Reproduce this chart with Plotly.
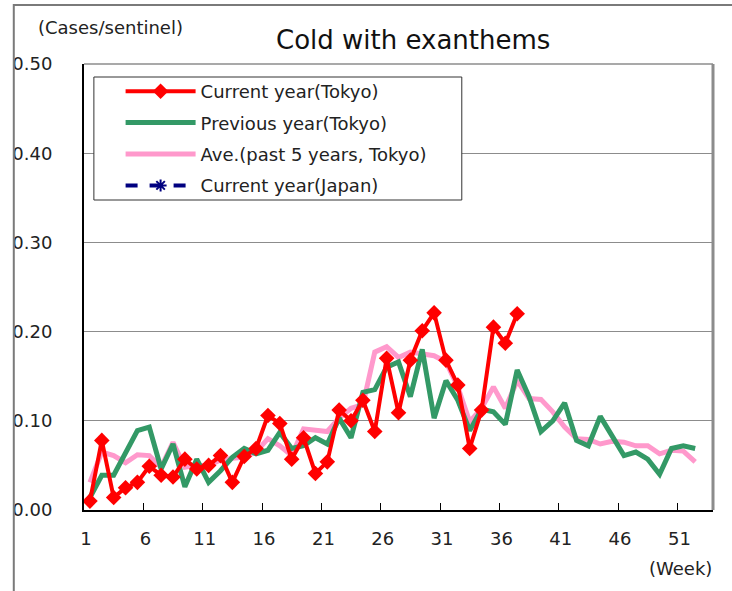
import plotly.graph_objects as go

weeks_cur = list(range(1, 38))
current_tokyo = [0.010, 0.078, 0.014, 0.025, 0.031, 0.049, 0.039, 0.037, 0.057, 0.046,
                 0.050, 0.061, 0.031, 0.060, 0.069, 0.106, 0.097, 0.057, 0.081, 0.041,
                 0.054, 0.112, 0.100, 0.123, 0.088, 0.170, 0.109, 0.168, 0.201, 0.221,
                 0.168, 0.140, 0.069, 0.112, 0.205, 0.187, 0.220]

weeks_full = list(range(1, 53))
previous_tokyo = [0.014, 0.039, 0.039, 0.064, 0.089, 0.093, 0.046, 0.074, 0.026, 0.057,
                  0.031, 0.044, 0.059, 0.069, 0.063, 0.067, 0.087, 0.069, 0.072, 0.081,
                  0.074, 0.103, 0.081, 0.132, 0.135, 0.160, 0.166, 0.127, 0.180, 0.103,
                  0.145, 0.123, 0.089, 0.113, 0.110, 0.096, 0.157, 0.127, 0.088, 0.100,
                  0.120, 0.078, 0.072, 0.105, 0.084, 0.061, 0.065, 0.057, 0.040, 0.069,
                  0.072, 0.069]
average_5y = [0.031, 0.065, 0.061, 0.053, 0.062, 0.061, 0.048, 0.076, 0.048, 0.050,
              0.050, 0.056, 0.058, 0.059, 0.065, 0.080, 0.072, 0.061, 0.091, 0.090,
              0.088, 0.103, 0.114, 0.118, 0.177, 0.183, 0.171, 0.177, 0.175, 0.173,
              0.166, 0.138, 0.099, 0.114, 0.138, 0.114, 0.145, 0.125, 0.124, 0.110,
              0.093, 0.080, 0.079, 0.074, 0.077, 0.076, 0.072, 0.072, 0.063, 0.067,
              0.066, 0.054]
current_japan = [None] * len(weeks_cur)  # no values shown in the chart

tick_weeks = [1, 6, 11, 16, 21, 26, 31, 36, 41, 46, 51]
boundary_ticks = [5.5, 10.5, 15.5, 20.5, 25.5, 30.5, 35.5, 40.5, 45.5, 50.5]

FONT = "DejaVu Sans"
TXT = "#222222"

fig = go.Figure()
fig.add_trace(go.Scatter(x=weeks_full, y=average_5y, name="Ave.(past 5 years, Tokyo)",
                         mode="lines", legendgroup="c", legendrank=3,
                         line=dict(color="#ff99cc", width=5)))
fig.add_trace(go.Scatter(x=weeks_full, y=previous_tokyo, name="Previous year(Tokyo)",
                         mode="lines", legendgroup="b", legendrank=2,
                         line=dict(color="#339966", width=5)))
fig.add_trace(go.Scatter(x=weeks_cur, y=current_japan, name="Current year(Japan)",
                         mode="lines+markers", legendgroup="d", legendrank=4,
                         line=dict(color="#000080", width=4, dash="dash"),
                         marker=dict(symbol="asterisk-open", size=10, color="#000080",
                                     line=dict(color="#000080", width=2))))
fig.add_trace(go.Scatter(x=weeks_cur, y=current_tokyo, name="Current year(Tokyo)",
                         mode="lines+markers", legendgroup="a", legendrank=1,
                         line=dict(color="#ff0000", width=4),
                         marker=dict(symbol="diamond", size=12, color="#ff0000")))

L, R, T, B = 77, 19, 64, 81
W, H = 732, 591
pw, ph = W - L - R, H - T - B

def px(x):
    return (x - L) / pw

def py(y):
    return (H - B - y) / ph

fig.update_layout(
    width=W, height=H,
    margin=dict(l=L, r=R, t=T, b=B),
    paper_bgcolor="white", plot_bgcolor="white",
    font=dict(family=FONT, size=18, color=TXT),
    showlegend=True,
    legend=dict(x=px(114), y=py(73), xanchor="left", yanchor="top",
                bgcolor="rgba(0,0,0,0)", borderwidth=0,
                traceorder="grouped", tracegroupgap=5, itemwidth=70,
                font=dict(family=FONT, size=18, color=TXT)),
    xaxis=dict(range=[0.5, 53.5], tickmode="array",
               tickvals=[w - 0.33 for w in tick_weeks],
               ticktext=[str(w) for w in tick_weeks],
               ticks="", showgrid=False, zeroline=False,
               showline=True, linecolor="black", linewidth=2,
               tickfont=dict(family=FONT, size=18, color=TXT),
               ticklabelstandoff=11,
               minor=dict(tickmode="array", tickvals=boundary_ticks, ticks="inside",
                          ticklen=7, tickwidth=1, tickcolor="black", showgrid=False)),
    yaxis=dict(range=[0, 0.5], tick0=0, dtick=0.1, tickformat=".2f",
               ticks="", showgrid=True, gridcolor="#8c8c8c", gridwidth=1,
               zeroline=False, showline=True, linecolor="black", linewidth=2,
               tickfont=dict(family=FONT, size=18, color=TXT),
               ticklabelstandoff=26),
    shapes=[
        dict(type="rect", xref="paper", yref="paper", x0=px(6), y0=py(600),
             x1=px(745), y1=py(5), line=dict(color="#7a7a7a", width=2),
             fillcolor="rgba(0,0,0,0)", layer="above"),
        dict(type="line", xref="paper", yref="paper", x0=0, y0=1, x1=1, y1=1,
             line=dict(color="#8c8c8c", width=1.5), layer="above"),
        dict(type="line", xref="paper", yref="paper", x0=1, y0=0, x1=1, y1=1,
             line=dict(color="#8c8c8c", width=3), layer="above"),
        dict(type="rect", xref="paper", yref="paper", x0=px(87), y0=py(200),
             x1=px(459), y1=py(77), line=dict(color="#333333", width=1),
             fillcolor="white", layer="above"),
    ],
    annotations=[
        dict(text="Cold with exanthems", xref="paper", yref="paper", x=px(410), y=py(40),
             xanchor="center", yanchor="middle", showarrow=False,
             font=dict(family=FONT, size=26, color="#111111")),
        dict(text="(Cases/sentinel)", xref="paper", yref="paper", x=px(28), y=py(27),
             xanchor="left", yanchor="middle", showarrow=False,
             font=dict(family=FONT, size=18, color=TXT)),
        dict(text="(Week)", xref="paper", yref="paper", x=px(714), y=py(568),
             xanchor="right", yanchor="middle", showarrow=False,
             font=dict(family=FONT, size=18, color=TXT)),
    ],
)

fig.write_html("out.html", config={"displayModeBar": False},
               post_script="document.body.style.margin='0';document.body.style.padding='0';")
